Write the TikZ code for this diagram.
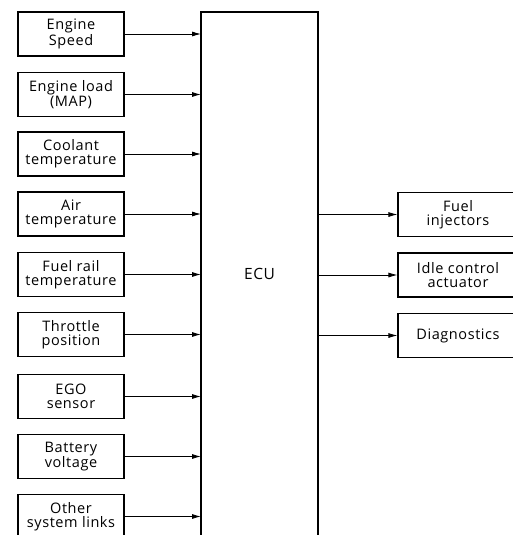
\documentclass[tikz,border=0pt]{standalone}
\usepackage{fontspec}
\setmainfont[LetterSpace=4]{Open Sans}
\usetikzlibrary{arrows.meta}
\begin{document}
\begin{tikzpicture}[x=1pt,y=-1pt,
  txt/.style={font=\fontsize{14.5}{14.3}\selectfont},
  inbox/.style={txt,draw,line width=1.2pt,minimum width=106pt,minimum height=44pt,align=center,inner sep=0pt},
  outbox/.style={txt,draw,line width=1.2pt,minimum width=120pt,minimum height=44pt,align=center,inner sep=0pt},
  sig/.style={line width=0.8pt,-{Latex[length=9pt,width=5pt]}}]
\useasboundingbox (0,0) rectangle (513,535);
% ECU block
\draw[line width=1.3pt] (201,540) -- (201,12) -- (318,12) -- (318,540);
\node[font=\fontsize{15.5}{16}\selectfont] (ecu) at (259.5,274) {ECU};
\coordinate (ecuL) at (201,274);
\coordinate (ecuR) at (318,274);
% inputs
\node[inbox] (i1) at (71,34) {Engine\\Speed};
\node[inbox] (i2) at (71,94.5) {Engine load\\(MAP)};
\node[inbox] (i3) at (71,154) {Coolant\\temperature};
\node[inbox] (i4) at (71,214) {Air\\temperature};
\node[inbox] (i5) at (71,274.5) {Fuel rail\\temperature};
\node[inbox] (i6) at (71,334.5) {Throttle\\position};
\node[inbox] (i7) at (71,396.5) {EGO\\sensor};
\node[inbox] (i8) at (71,456.5) {Battery\\voltage};
\node[inbox] (i9) at (71,516.5) {Other\\system links};
\foreach \n in {1,...,9}{
  \draw[sig] (i\n.east) -- (i\n.east -| ecuL);
}
% outputs
\node[outbox] (o1) at (458,214.5) {Fuel\\injectors};
\node[outbox] (o2) at (458,275) {Idle control\\actuator};
\node[outbox] (o3) at (458,335.5) {Diagnostics};
\foreach \n in {1,2,3}{
  \draw[sig] (o\n.west -| ecuR) -- (o\n.west);
}
\end{tikzpicture}
\end{document}
